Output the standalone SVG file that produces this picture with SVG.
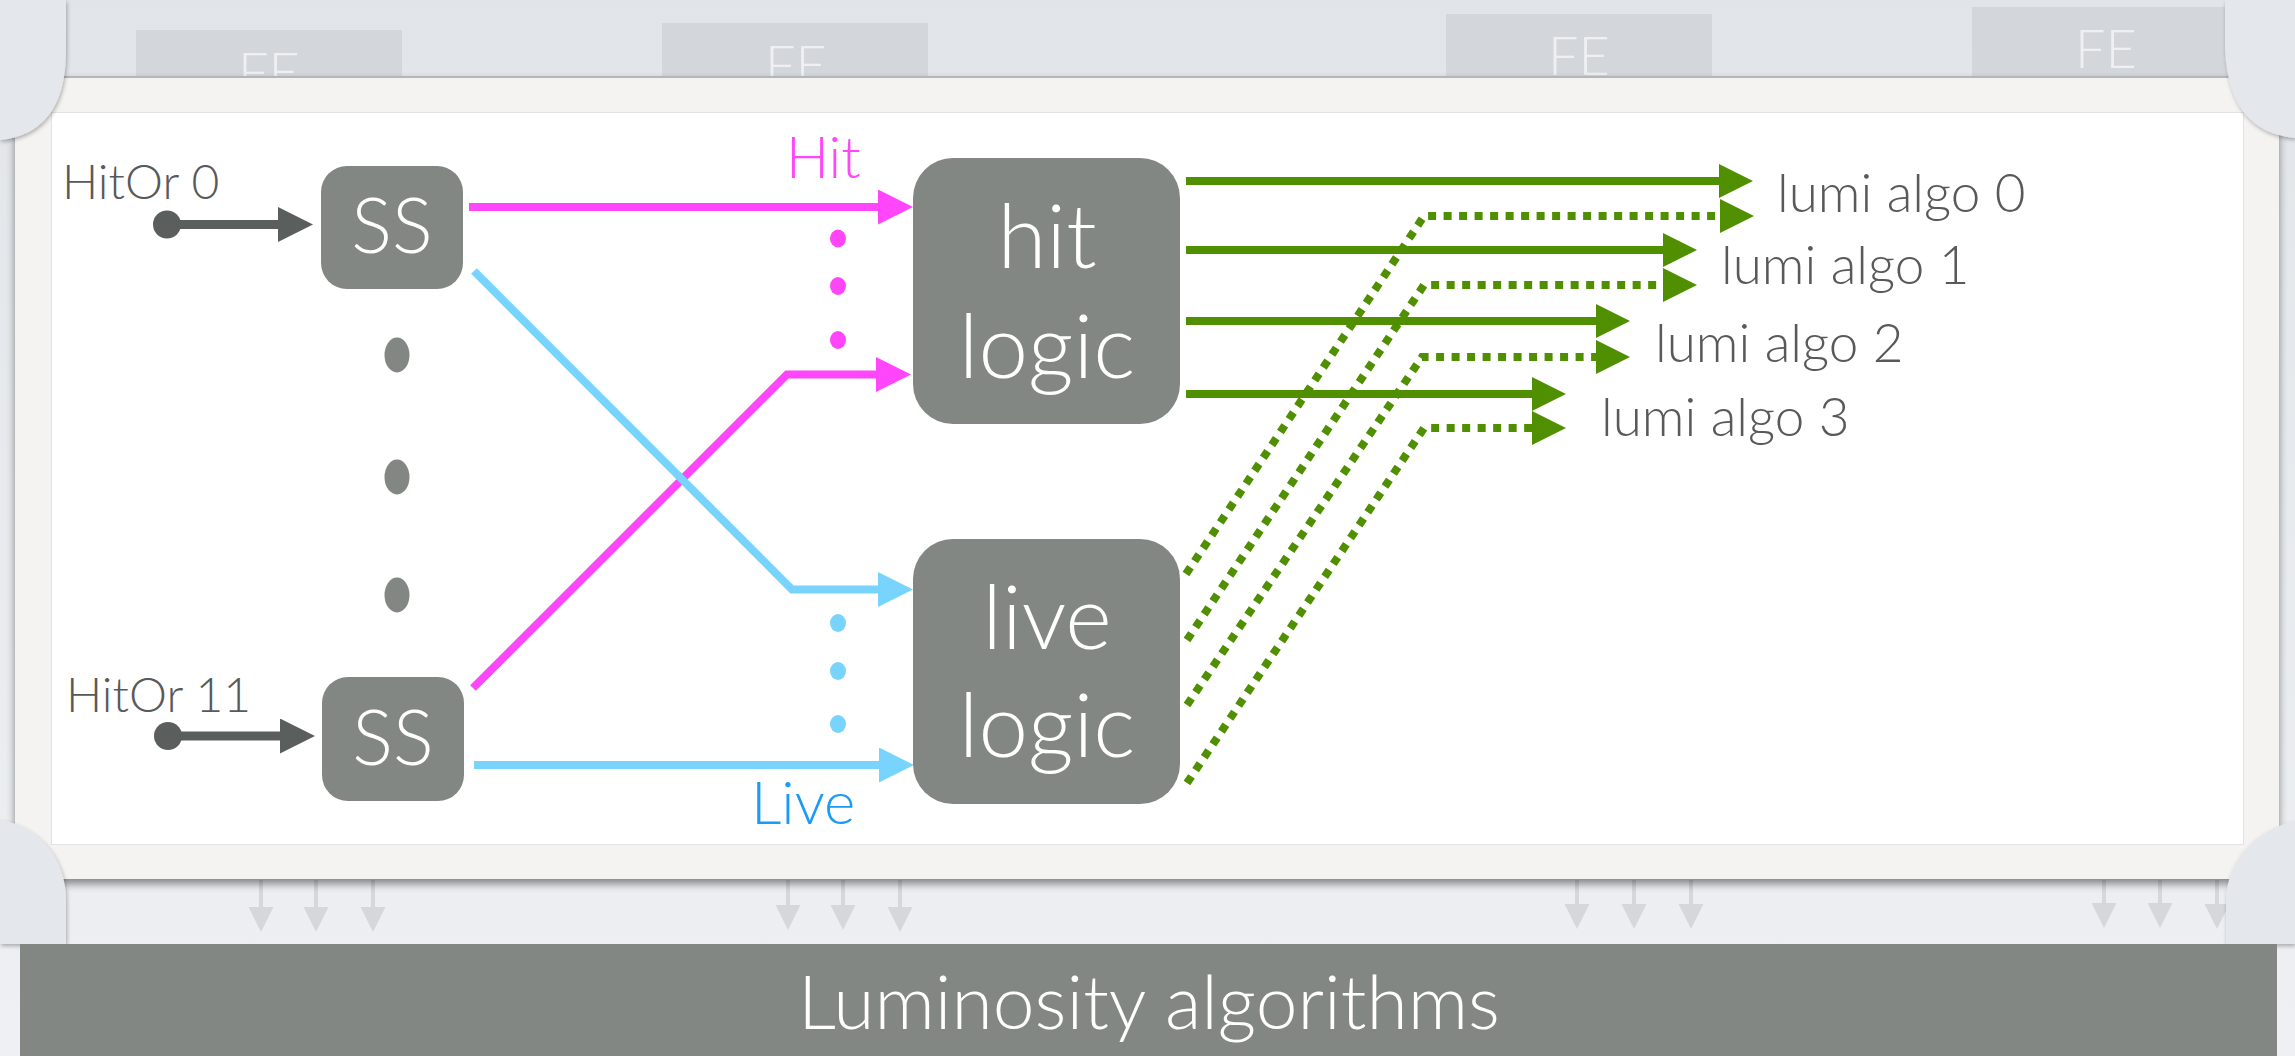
<svg xmlns="http://www.w3.org/2000/svg" width="2295" height="1056" viewBox="0 0 2295 1056">
  <defs>
    <linearGradient id="bg" x1="0" y1="0" x2="0" y2="1">
      <stop offset="0" stop-color="#e1e5e9"/>
      <stop offset="1" stop-color="#eef0f3"/>
    </linearGradient>
    <filter id="shadow" x="-5%" y="-5%" width="110%" height="120%">
      <feGaussianBlur in="SourceAlpha" stdDeviation="4"/>
      <feOffset dy="5"/>
      <feComponentTransfer><feFuncA type="linear" slope="0.45"/></feComponentTransfer>
      <feMerge><feMergeNode/><feMergeNode in="SourceGraphic"/></feMerge>
    </filter>
    <filter id="cshadow" x="-50%" y="-50%" width="200%" height="200%">
      <feGaussianBlur in="SourceAlpha" stdDeviation="2"/>
      <feOffset dx="1" dy="2"/>
      <feComponentTransfer><feFuncA type="linear" slope="0.3"/></feComponentTransfer>
      <feMerge><feMergeNode/><feMergeNode in="SourceGraphic"/></feMerge>
    </filter>
    <marker id="ahDark" markerUnits="userSpaceOnUse" markerWidth="36" markerHeight="36" refX="0" refY="17.5" orient="auto">
      <path d="M0,0 L35,17.5 L0,35 Z" fill="#5a5f5d"/>
    </marker>
    <marker id="ahMag" markerUnits="userSpaceOnUse" markerWidth="36" markerHeight="36" refX="0" refY="17.5" orient="auto">
      <path d="M0,0 L35,17.5 L0,35 Z" fill="#ff46fa"/>
    </marker>
    <marker id="ahCyan" markerUnits="userSpaceOnUse" markerWidth="36" markerHeight="36" refX="0" refY="17.5" orient="auto">
      <path d="M0,0 L35,17.5 L0,35 Z" fill="#78d4fc"/>
    </marker>
    <marker id="ahGreen" markerUnits="userSpaceOnUse" markerWidth="36" markerHeight="36" refX="0" refY="17" orient="auto">
      <path d="M0,0 L34,17 L0,34 Z" fill="#508f00"/>
    </marker>
    <marker id="ahLight" markerUnits="userSpaceOnUse" markerWidth="26" markerHeight="26" refX="0" refY="12.5" orient="auto">
      <path d="M0,0 L25,12.5 L0,25 Z" fill="#d5d7db"/>
    </marker>
  </defs>
  <style>
    text { font-family: Lato, "Open Sans", "Liberation Sans", sans-serif; font-weight: 300; }
    .box { fill: #828784; }
    .wt { fill: #ffffff; }
    .lbl { fill: #58595b; }
    .fe { fill: #d3d6da; }
    .fet { fill: #eef0f2; font-size: 54px; text-anchor: middle; }
    .mag { stroke: #ff46fa; stroke-width: 8; fill: none; marker-end: url(#ahMag); }
    .cyan { stroke: #78d4fc; stroke-width: 8; fill: none; marker-end: url(#ahCyan); }
    .gs { stroke: #508f00; stroke-width: 8; fill: none; marker-end: url(#ahGreen); }
    .gd { stroke: #508f00; stroke-width: 8; fill: none; stroke-dasharray: 8 7.5; marker-end: url(#ahGreen); }
    .dk { stroke: #5a5f5d; stroke-width: 9; fill: none; marker-end: url(#ahDark); }
    .lt { stroke: #d5d7db; stroke-width: 4; fill: none; marker-end: url(#ahLight); }
    .corner { fill: #e4e7eb; filter: url(#cshadow); }
  </style>

  <!-- background -->
  <rect x="0" y="0" width="2295" height="1056" fill="url(#bg)"/>

  <!-- FE boxes behind the panel -->
  <g id="fe-boxes">
    <g id="fe1"><rect class="fe" x="136" y="30" width="266" height="80"/><text class="fet" x="269" y="91">FE</text></g>
    <g id="fe2"><rect class="fe" x="662" y="23" width="266" height="80"/><text class="fet" x="796" y="84">FE</text></g>
    <g id="fe3"><rect class="fe" x="1446" y="14" width="266" height="80"/><text class="fet" x="1579" y="75">FE</text></g>
    <g id="fe4"><rect class="fe" x="1972" y="7" width="266" height="82"/><text class="fet" x="2106" y="68">FE</text></g>
  </g>

  <!-- downward arrows to the bar -->
  <g id="down-arrows">
    <line class="lt" x1="261" y1="880" x2="261" y2="907"/>
    <line class="lt" x1="316" y1="880" x2="316" y2="907"/>
    <line class="lt" x1="373" y1="880" x2="373" y2="907"/>
    <line class="lt" x1="788" y1="880" x2="788" y2="905"/>
    <line class="lt" x1="843" y1="880" x2="843" y2="905"/>
    <line class="lt" x1="900" y1="880" x2="900" y2="907"/>
    <line class="lt" x1="1577" y1="880" x2="1577" y2="904"/>
    <line class="lt" x1="1634" y1="880" x2="1634" y2="904"/>
    <line class="lt" x1="1691" y1="880" x2="1691" y2="904"/>
    <line class="lt" x1="2104" y1="880" x2="2104" y2="903"/>
    <line class="lt" x1="2160" y1="880" x2="2160" y2="903"/>
    <line class="lt" x1="2217" y1="880" x2="2217" y2="904"/>
  </g>

  <!-- panel -->
  <g id="panel">
    <rect x="15" y="76" width="2264" height="803" fill="#f4f3f1" filter="url(#shadow)"/>
    <line x1="15" y1="77" x2="2279" y2="77" stroke="#b4b7ba" stroke-width="2"/>
    <rect x="52" y="113" width="2191" height="731" fill="#ffffff"/>
    <rect x="51.5" y="112.5" width="2192" height="732" fill="none" stroke="#e2e2e2" stroke-width="1"/>
  </g>

  <!-- corner pieces -->
  <g id="corners">
    <path class="corner" d="M0,0 H66 V50 C66,110 40,136 0,140 Z"/>
    <path class="corner" d="M2295,0 H2225 V50 C2228,110 2255,134 2295,138 Z"/>
    <path class="corner" d="M0,820 C40,826 66,860 66,900 V944 H0 Z"/>
    <path class="corner" d="M2295,821 C2255,830 2227,860 2226,900 V944 H2295 Z"/>
  </g>

  <!-- bottom bar -->
  <g id="lumi-bar">
    <rect class="box" x="20" y="944" width="2257" height="112"/>
    <text class="wt" x="1149" y="1029" font-size="75" text-anchor="middle">Luminosity algorithms</text>
  </g>

  <!-- connectors -->
  <g id="connectors">
    <circle cx="167" cy="224.5" r="14" fill="#5a5f5d"/>
    <line class="dk" x1="167" y1="224.5" x2="278" y2="224.5"/>
    <circle cx="168" cy="736" r="14" fill="#5a5f5d"/>
    <line class="dk" x1="168" y1="736" x2="280" y2="736"/>

    <line class="mag" x1="469" y1="207" x2="878" y2="207"/>
    <path class="mag" d="M473,688 L787,374.5 L876,374.5"/>
    <path class="cyan" d="M474,271 L792,589.5 L878,589.5"/>
    <line class="cyan" x1="474" y1="765" x2="879" y2="765"/>

    <line class="gs" x1="1186" y1="181" x2="1719" y2="181"/>
    <line class="gs" x1="1186" y1="250" x2="1663" y2="250"/>
    <line class="gs" x1="1186" y1="321" x2="1596" y2="321"/>
    <line class="gs" x1="1186" y1="394" x2="1532" y2="394"/>

    <path class="gd" d="M1186,574 L1424,216 L1720,216"/>
    <path class="gd" d="M1187,640 L1424,285 L1663,285"/>
    <path class="gd" d="M1187,705 L1422,357 L1596,357"/>
    <path class="gd" d="M1187,783 L1424,428 L1532,428"/>
  </g>

  <!-- dots -->
  <g id="dots-gray" class="box">
    <ellipse cx="397" cy="355" rx="12.5" ry="17.5"/>
    <ellipse cx="397" cy="477" rx="12.5" ry="17.5"/>
    <ellipse cx="397" cy="595" rx="12.5" ry="17.5"/>
  </g>
  <g id="dots-hit" fill="#ff46fa">
    <ellipse cx="838" cy="238.5" rx="8" ry="9"/>
    <ellipse cx="838" cy="286" rx="8" ry="9"/>
    <ellipse cx="838" cy="340" rx="8" ry="9"/>
  </g>
  <g id="dots-live" fill="#78d4fc">
    <ellipse cx="838" cy="623" rx="8" ry="9"/>
    <ellipse cx="838" cy="671" rx="8" ry="9"/>
    <ellipse cx="838" cy="724" rx="8" ry="9"/>
  </g>

  <!-- input labels -->
  <g id="hitor0"><text class="lbl" x="62" y="199" font-size="48">HitOr 0</text></g>
  <g id="hitor11"><text class="lbl" x="66" y="712" font-size="48">HitOr 11</text></g>

  <!-- SS nodes -->
  <g id="ss0">
    <rect class="box" x="321" y="166" width="142" height="123" rx="26"/>
    <text class="wt" x="392" y="253" font-size="76" text-anchor="middle">SS</text>
  </g>
  <g id="ss11">
    <rect class="box" x="322" y="677" width="142" height="124" rx="26"/>
    <text class="wt" x="393" y="765" font-size="76" text-anchor="middle">SS</text>
  </g>

  <!-- signal labels -->
  <g id="label-hit"><text x="786" y="178" font-size="57" fill="#ff46fa">Hit</text></g>
  <g id="label-live"><text x="751" y="824" font-size="60" fill="#1a9bf5">Live</text></g>

  <!-- logic nodes -->
  <g id="hit-logic">
    <rect class="box" x="913" y="158" width="267" height="266" rx="40"/>
    <text class="wt" x="1047" y="268" font-size="89" text-anchor="middle">hit</text>
    <text class="wt" x="1047" y="378" font-size="89" text-anchor="middle">logic</text>
  </g>
  <g id="live-logic">
    <rect class="box" x="913" y="539" width="267" height="265" rx="40"/>
    <text class="wt" x="1047" y="649" font-size="89" text-anchor="middle">live</text>
    <text class="wt" x="1047" y="757" font-size="89" text-anchor="middle">logic</text>
  </g>

  <!-- output labels -->
  <g id="lumi0"><text class="lbl" x="1777" y="212" font-size="53">lumi algo 0</text></g>
  <g id="lumi1"><text class="lbl" x="1721" y="284" font-size="53">lumi algo 1</text></g>
  <g id="lumi2"><text class="lbl" x="1655" y="362" font-size="53">lumi algo 2</text></g>
  <g id="lumi3"><text class="lbl" x="1601" y="436" font-size="53">lumi algo 3</text></g>
</svg>
